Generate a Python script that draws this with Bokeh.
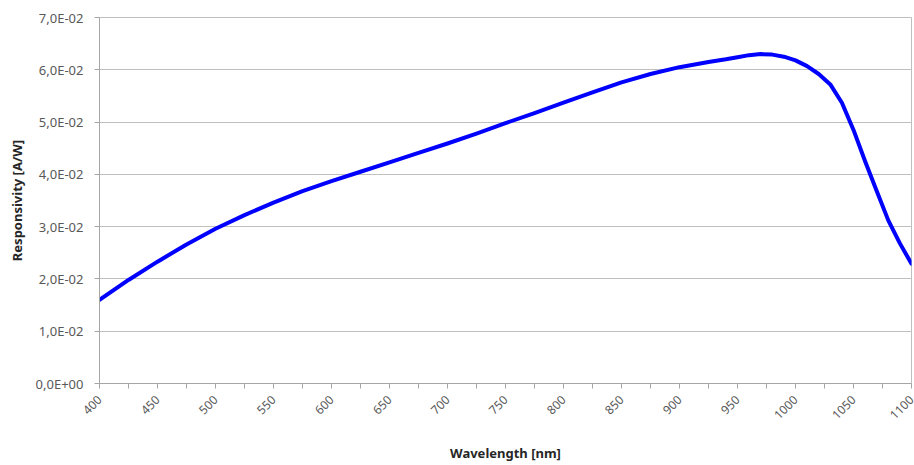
from math import pi
from bokeh.plotting import figure
from bokeh.models import FixedTicker, Range1d
from bokeh.embed import file_html
from bokeh.resources import INLINE

# ---- data ----
wavelength_nm = [400, 425, 450, 475, 500, 525, 550, 575, 600, 625, 650, 675,
                 700, 725, 750, 775, 800, 825, 850, 875, 900, 925, 940, 950,
                 960, 970, 980, 990, 1000, 1010, 1020, 1030, 1040, 1050, 1060,
                 1070, 1080, 1090, 1100]
responsivity = [0.0160, 0.0198, 0.0233, 0.0266, 0.0296, 0.0322, 0.0346, 0.0368,
                0.0387, 0.0405, 0.0423, 0.0441, 0.0459, 0.0478, 0.0498, 0.0517,
                0.0537, 0.0557, 0.0576, 0.0592, 0.0605, 0.0615, 0.0620, 0.0624,
                0.0628, 0.0630, 0.0629, 0.0625, 0.0618, 0.0607, 0.0592, 0.0572,
                0.0537, 0.0485, 0.0425, 0.0368, 0.0312, 0.0268, 0.0229]

x_ticks = [400, 450, 500, 550, 600, 650, 700, 750, 800, 850, 900, 950, 1000, 1050, 1100]
x_minor_ticks = [425, 475, 525, 575, 625, 675, 725, 775, 825, 875, 925, 975, 1025, 1075]
y_ticks = [0.0, 0.01, 0.02, 0.03, 0.04, 0.05, 0.06, 0.07]
y_tick_labels = ["0,0E+00", "1,0E-02", "2,0E-02", "3,0E-02",
                 "4,0E-02", "5,0E-02", "6,0E-02", "7,0E-02"]

x_title = "Wavelength [nm]"
y_title = "Responsivity [A/W]"

# ---- figure ----
p = figure(width=914, height=465, output_backend="svg", toolbar_location=None,
           x_range=Range1d(400, 1100), y_range=Range1d(0, 0.07),
           min_border_left=99, min_border_right=3, min_border_top=17,
           min_border_bottom=81)
p.background_fill_color = "white"
p.border_fill_color = "white"
p.outline_line_color = "#BFBFBF"
p.outline_line_width = 1

p.line(wavelength_nm, responsivity, line_color="#0000FF", line_width=4,
       line_join="round", line_cap="round")

font = "Noto Sans"
tick_color = "#595959"
axis_color = "#A6A6A6"

xa = p.xaxis[0]
xa.ticker = FixedTicker(ticks=x_ticks, minor_ticks=x_minor_ticks)
xa.major_label_orientation = pi / 4
xa.major_label_standoff = 9
xa.major_label_text_font = font
xa.major_label_text_font_size = "12px"
xa.major_label_text_color = tick_color
xa.axis_label = x_title
xa.axis_label_text_font = font
xa.axis_label_text_font_size = "13px"
xa.axis_label_text_font_style = "bold"
xa.axis_label_text_color = "#262626"
xa.axis_label_standoff = 18
xa.axis_line_color = axis_color
xa.major_tick_line_color = axis_color
xa.minor_tick_line_color = axis_color
xa.major_tick_in = 0
xa.major_tick_out = 5
xa.minor_tick_in = 0
xa.minor_tick_out = 5

ya = p.yaxis[0]
ya.ticker = FixedTicker(ticks=y_ticks, minor_ticks=[])
ya.major_label_overrides = {t: s for t, s in zip(y_ticks, y_tick_labels)}
ya.major_label_standoff = 11
ya.major_label_text_font = font
ya.major_label_text_font_size = "13px"
ya.major_label_text_color = tick_color
ya.axis_label = y_title
ya.axis_label_text_font = font
ya.axis_label_text_font_size = "13px"
ya.axis_label_text_font_style = "bold"
ya.axis_label_text_color = "#262626"
ya.axis_label_standoff = 7
ya.axis_line_color = axis_color
ya.major_tick_line_color = axis_color
ya.major_tick_in = 0
ya.major_tick_out = 5
ya.minor_tick_line_color = None

p.xgrid.grid_line_color = None
p.ygrid.grid_line_color = "#BFBFBF"
p.ygrid.grid_line_width = 1

open("out.html", "w").write(file_html(p, INLINE))
